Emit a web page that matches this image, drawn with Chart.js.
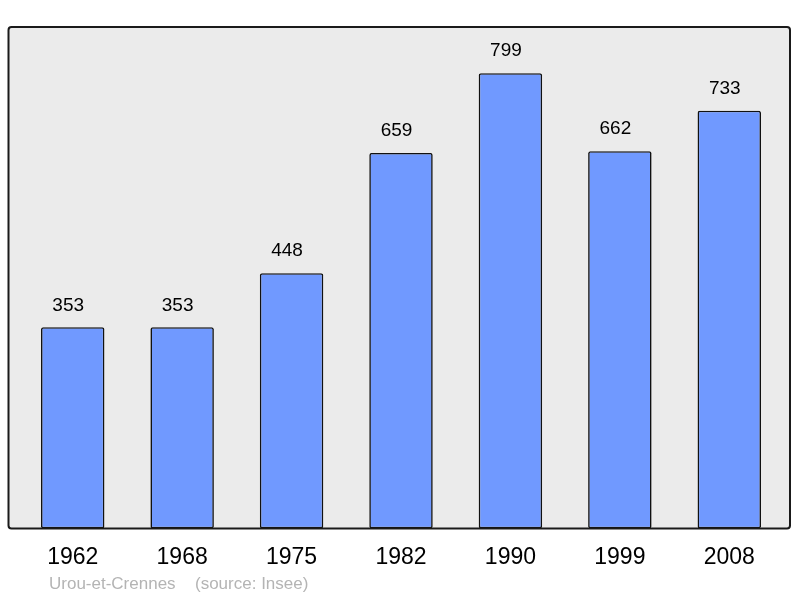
<!DOCTYPE html>
<html><head><meta charset="utf-8">
<script src="https://cdn.jsdelivr.net/npm/chart.js@4"></script>
<style>html,body{margin:0;padding:0;background:#fff}canvas{display:block}</style>
</head><body>
<canvas id="c" width="800" height="598"></canvas>
<script>
const categories = ["1962","1968","1975","1982","1990","1999","2008"];
const population = [353,353,448,659,799,662,733];
const yMax = 880;
const footerName = "Urou-et-Crennes";
const footerSource = "(source: Insee)";

const FONT = "'Liberation Sans', Arial, sans-serif";

const boxPlugin = {
  id: 'box',
  beforeDraw(chart) {
    const {ctx, chartArea: a} = chart;
    const x0 = a.left - 9.5, x1 = a.right + 6, y0 = a.top, y1 = a.bottom;
    ctx.save();
    ctx.beginPath();
    if (ctx.roundRect) ctx.roundRect(x0, y0, x1 - x0, y1 - y0, 3); else ctx.rect(x0, y0, x1 - x0, y1 - y0);
    ctx.fillStyle = '#ebebeb';
    ctx.fill();
    ctx.restore();
  },
  afterDatasetsDraw(chart) {
    const {ctx, chartArea: a} = chart;
    const x0 = a.left - 9.5, x1 = a.right + 6, y0 = a.top, y1 = a.bottom;
    ctx.save();
    ctx.beginPath();
    if (ctx.roundRect) ctx.roundRect(x0, y0, x1 - x0, y1 - y0, 3); else ctx.rect(x0, y0, x1 - x0, y1 - y0);
    ctx.lineWidth = 2;
    ctx.strokeStyle = '#1a1a1a';
    ctx.stroke();
    // value labels
    ctx.fillStyle = '#000';
    ctx.font = "19px " + FONT;
    ctx.textAlign = 'center';
    ctx.textBaseline = 'middle';
    const meta = chart.getDatasetMeta(0);
    meta.data.forEach((bar, i) => {
      ctx.fillText(String(chart.data.datasets[0].data[i]), bar.x - 4.5, bar.y - 22);
    });
    // footer
    ctx.fillStyle = '#b4b4b4';
    ctx.font = "17px " + FONT;
    ctx.textAlign = 'left';
    ctx.fillText(footerName, 49, 584);
    ctx.fillText(footerSource, 195, 584);
    ctx.restore();
  }
};

new Chart(document.getElementById('c'), {
  type: 'bar',
  data: {
    labels: categories,
    datasets: [{
      data: population,
      backgroundColor: '#7099ff',
      borderColor: '#111111',
      borderWidth: 1.6,
      borderRadius: 2,
      borderSkipped: false,
      barPercentage: 0.58,
      categoryPercentage: 1.0
    }]
  },
  options: {
    responsive: false,
    animation: false,
    events: [],
    layout: { padding: { left: 18, right: 16, top: 27, bottom: 12 } },
    plugins: { legend: { display: false }, tooltip: { enabled: false } },
    scales: {
      x: {
        grid: { display: false, drawTicks: false, tickLength: 0 },
        border: { display: false },
        ticks: { color: '#000', font: { family: FONT, size: 23 }, padding: 15, maxRotation: 0 }
      },
      y: {
        display: false,
        min: 0, max: yMax
      }
    }
  },
  plugins: [boxPlugin]
});
</script>
</body></html>
